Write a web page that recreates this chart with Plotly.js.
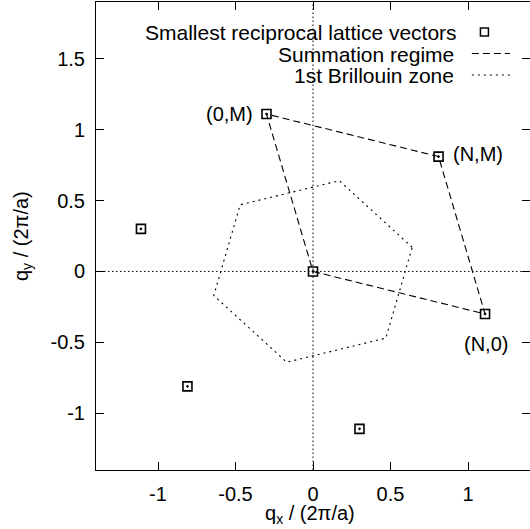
<!DOCTYPE html>
<html>
<head>
<meta charset="utf-8">
<script src="https://cdn.plot.ly/plotly-3.0.1.min.js"></script>
<style>html,body{margin:0;padding:0;background:#fff;overflow:hidden}</style>
</head>
<body>
<div id="chart" style="width:530px;height:529px"></div>
<script>
// Smallest reciprocal lattice vectors (incl. origin)
const latticeX = [0, -0.30, 0.81, 1.11, -1.11, -0.81, 0.30];
const latticeY = [0, 1.11, 0.81, -0.30, 0.30, -0.81, -1.11];
// Summation regime polygon: (0,0) -> (N,0) -> (N,M) -> (0,M) -> (0,0)
const sumX = [0, 1.11, 0.81, -0.30, 0];
const sumY = [0, -0.30, 0.81, 1.11, 0];
// 1st Brillouin zone hexagon
const bzX = [0.64, 0.17, -0.47, -0.64, -0.17, 0.47, 0.64];
const bzY = [0.17, 0.64, 0.47, -0.17, -0.64, -0.47, 0.17];
// Corner labels
const cornerLabels = ["(0,M)", "(N,M)", "(N,0)"];
const cornerX = [-0.30, 0.81, 1.11];
const cornerY = [1.11, 0.81, -0.30];
// Ticks
const xTickVals = [-1, -0.5, 0, 0.5, 1];
const xTickText = ["-1", "-0.5", "0", "0.5", "1"];
const yTickVals = [-1, -0.5, 0, 0.5, 1, 1.5];
const yTickText = ["-1", "-0.5", "0", "0.5", "1", "1.5"];
// Legend and axis titles
const legendNames = ["Smallest reciprocal lattice vectors", "Summation regime", "1st Brillouin zone"];
const xTitle = "q<sub>x</sub> / (2π/a)";
const yTitle = "q<sub>y</sub> / (2π/a)";

const FONT = "Liberation Sans, Arial, Helvetica, sans-serif";
const FS = 20;
const LFS = 21;

const traces = [
  {x: bzX, y: bzY, mode: "lines", line: {color: "black", width: 1.1, dash: "2px,4px"}, hoverinfo: "skip"},
  {x: sumX, y: sumY, mode: "lines", line: {color: "black", width: 1.1, dash: "7px,4px"}, hoverinfo: "skip"},
  {x: latticeX, y: latticeY, mode: "markers",
   marker: {symbol: "square-open-dot", size: 9, color: "black", line: {color: "black", width: 1.6}}}
];

const axisCommon = {
  showgrid: false, zeroline: false, showline: true, mirror: "ticks",
  linecolor: "black", linewidth: 1, ticks: "inside", ticklen: 8, tickwidth: 1,
  tickcolor: "black", tickfont: {family: FONT, size: FS, color: "black"}
};

const f = (s) => ({family: FONT, size: s, color: "black"});
const legY = [0.934, 0.887, 0.842];
const annotations = [
  {xref: "paper", yref: "paper", x: 0.836, y: legY[0], text: legendNames[0], xanchor: "right", yanchor: "middle", showarrow: false, font: f(LFS)},
  {xref: "paper", yref: "paper", x: 0.829, y: legY[1], text: legendNames[1], xanchor: "right", yanchor: "middle", showarrow: false, font: f(LFS)},
  {xref: "paper", yref: "paper", x: 0.829, y: legY[2], text: legendNames[2], xanchor: "right", yanchor: "middle", showarrow: false, font: f(LFS)},
  {xref: "x", yref: "y", x: cornerX[0], y: cornerY[0], text: cornerLabels[0], xanchor: "right", yanchor: "middle", xshift: -12, showarrow: false, font: f(FS)},
  {xref: "x", yref: "y", x: cornerX[1], y: cornerY[1], text: cornerLabels[1], xanchor: "left", yanchor: "middle", xshift: 12, yshift: 3, showarrow: false, font: f(FS)},
  {xref: "x", yref: "y", x: cornerX[2], y: cornerY[2], text: cornerLabels[2], xanchor: "center", yanchor: "middle", xshift: 1, yshift: -30, showarrow: false, font: f(FS)},
  // axis titles
  {xref: "paper", yref: "paper", x: 0.5, y: 0, text: xTitle, xanchor: "center", yanchor: "middle", yshift: -44, xshift: -3, showarrow: false, font: f(FS)},
  {xref: "paper", yref: "paper", x: 0, y: 0.5, text: yTitle, textangle: -90, xanchor: "center", yanchor: "middle", xshift: -74, showarrow: false, font: f(FS)}
];

const shapes = [
  {type: "line", xref: "x", yref: "paper", x0: 0, x1: 0, y0: 0, y1: 1, line: {color: "black", width: 1, dash: "1.5px,2.5px"}, layer: "below"},
  {type: "line", xref: "paper", yref: "y", x0: 0, x1: 1, y0: 0, y1: 0, line: {color: "black", width: 1, dash: "1.5px,2.5px"}, layer: "below"},
  // legend keys
  {type: "rect", xref: "paper", yref: "paper", xsizemode: "pixel", ysizemode: "pixel", xanchor: 0.895, yanchor: 0.936, x0: -4, x1: 4, y0: -4, y1: 4, line: {color: "black", width: 1.5}},
  {type: "line", xref: "paper", yref: "paper", x0: 0.866, x1: 0.954, y0: 0.890, y1: 0.890, line: {color: "black", width: 1.1, dash: "7px,4px"}},
  {type: "line", xref: "paper", yref: "paper", x0: 0.866, x1: 0.954, y0: 0.844, y1: 0.844, line: {color: "black", width: 1.1, dash: "2px,4px"}}
];

const layout = {
  width: 530, height: 529,
  margin: {l: 96, r: 0, t: 2, b: 59},
  paper_bgcolor: "white", plot_bgcolor: "white",
  showlegend: false,
  font: f(FS),
  xaxis: Object.assign({}, axisCommon, {
    range: [-1.4, 1.4], tickvals: xTickVals, ticktext: xTickText, ticklabelstandoff: 6
  }),
  yaxis: Object.assign({}, axisCommon, {
    range: [-1.4, 1.9], tickvals: yTickVals, ticktext: yTickText, ticklabelstandoff: 6
  }),
  annotations: annotations,
  shapes: shapes
};

Plotly.newPlot("chart", traces, layout, {staticPlot: true, displayModeBar: false});
</script>
</body>
</html>
